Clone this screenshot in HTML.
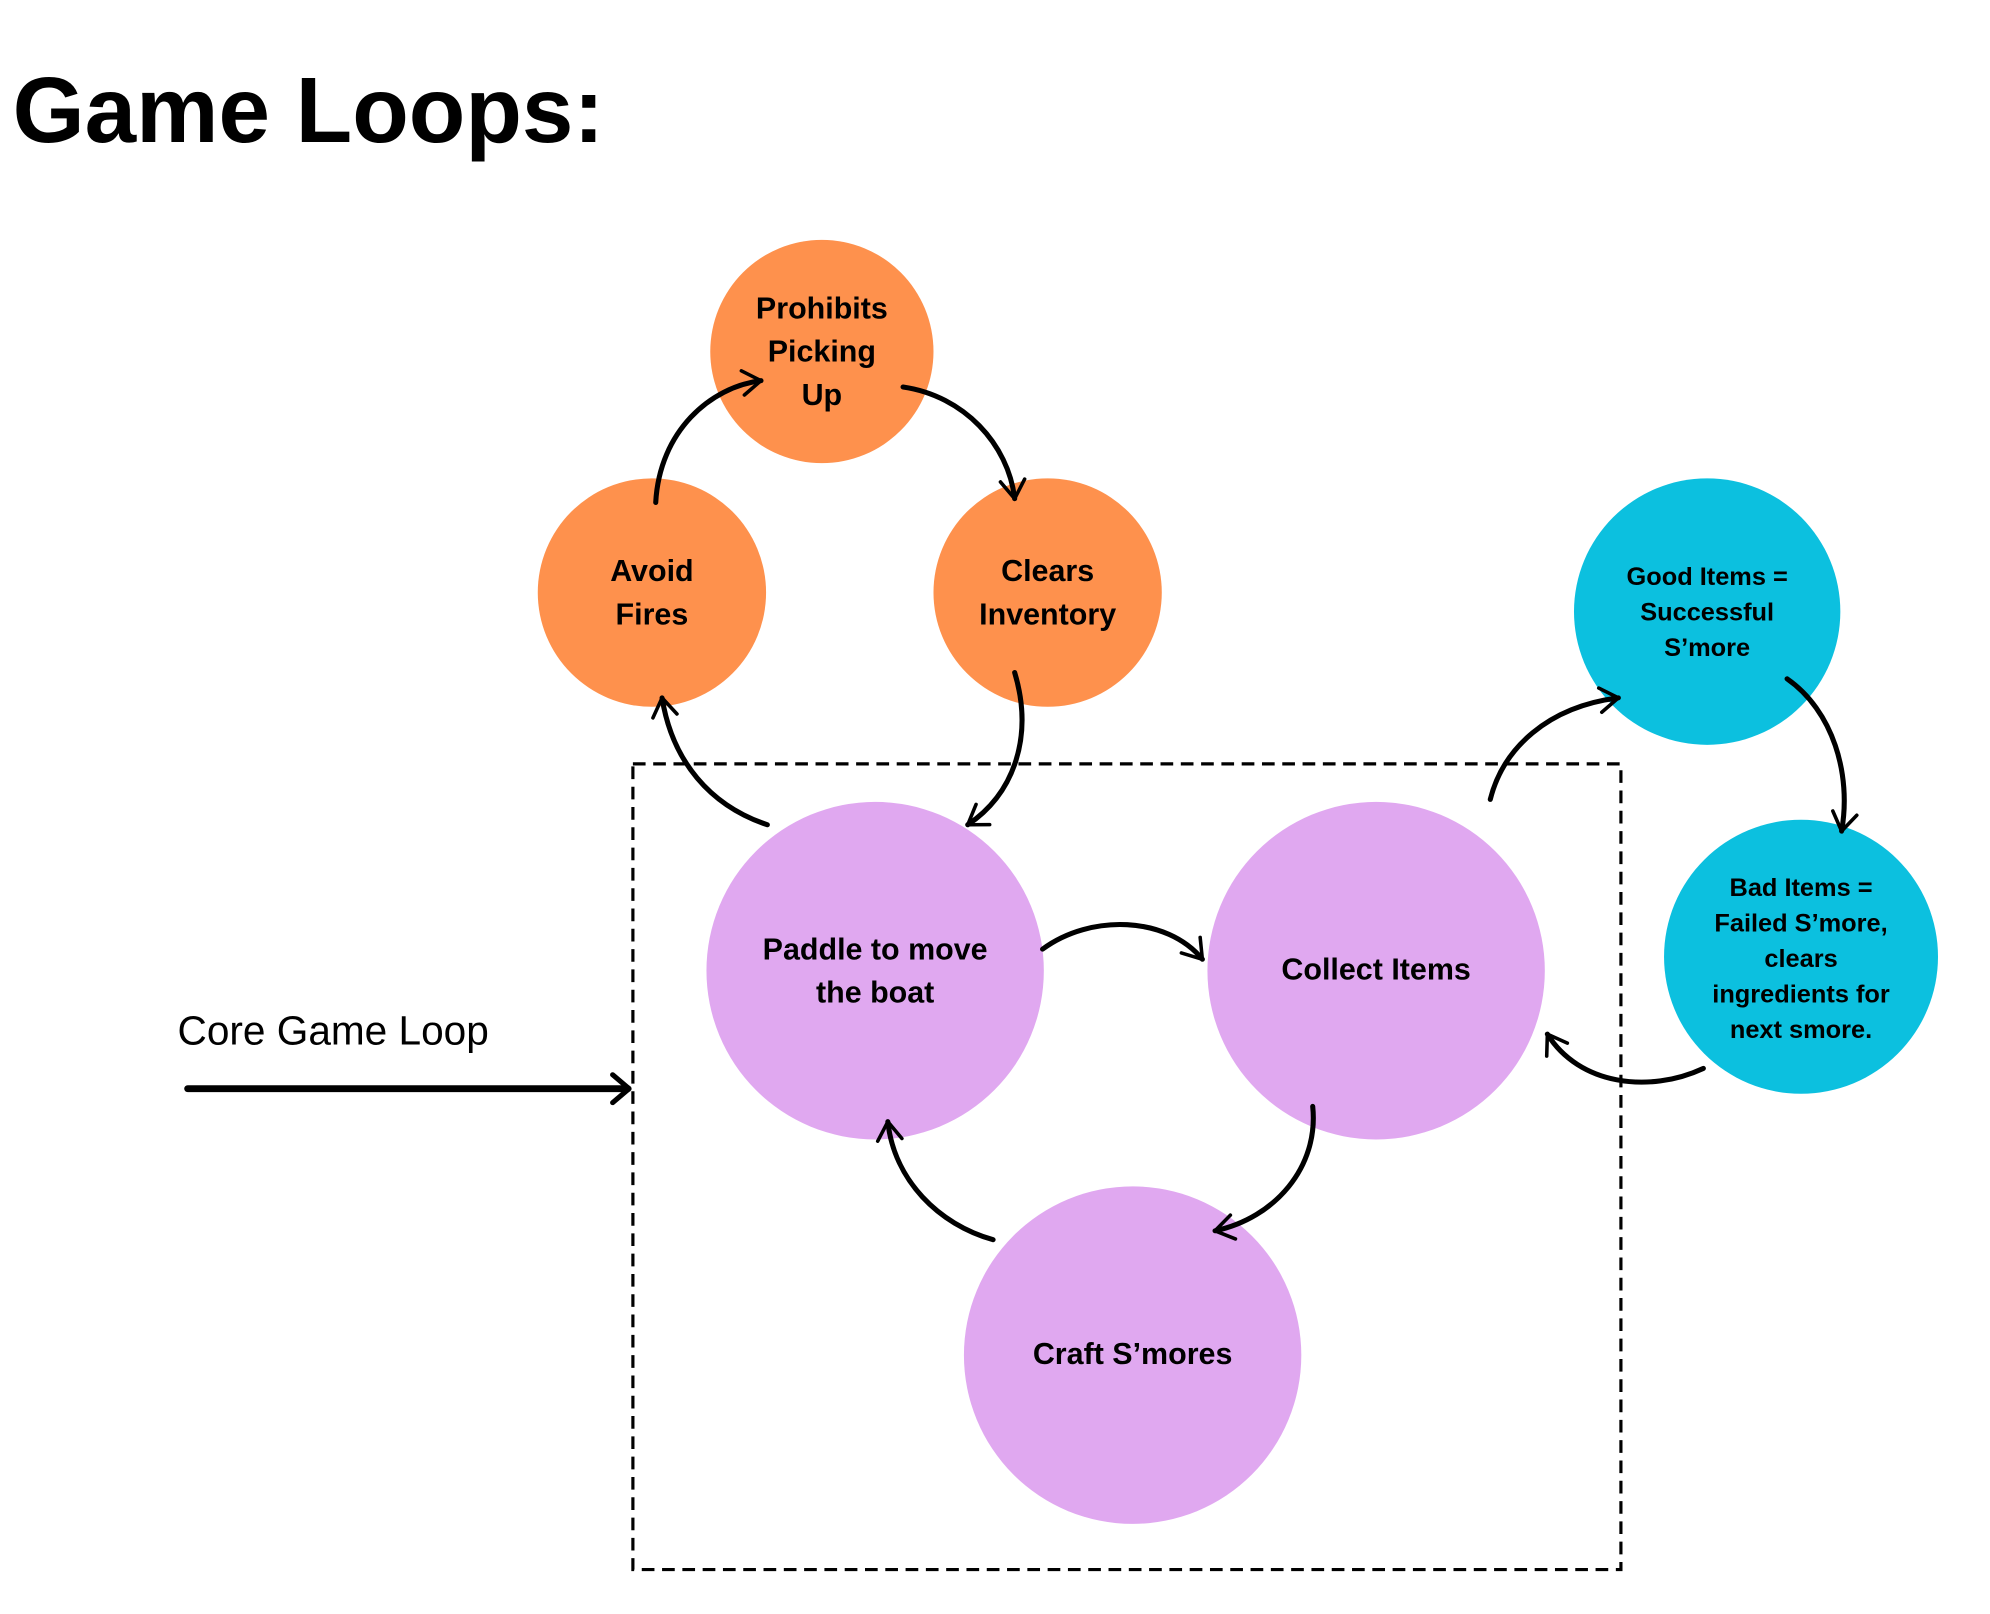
<!DOCTYPE html>
<html><head><meta charset="utf-8"><style>
html,body{margin:0;padding:0;background:#fff;}
svg{display:block;}
text{font-family:"Liberation Sans",sans-serif;}
</style></head><body>
<svg width="1990" height="1614" viewBox="0 0 1569 1272" preserveAspectRatio="none" xmlns="http://www.w3.org/2000/svg">
<defs>
<marker id="a" viewBox="0 0 20 20" refX="16" refY="10" markerWidth="16" markerHeight="16" markerUnits="userSpaceOnUse" orient="auto" overflow="visible">
<path d="M-2,-2 L16,10 L-2,22" fill="none" stroke="#000" stroke-width="3.5" stroke-linecap="round" stroke-linejoin="round"/>
</marker>
</defs>
<text x="10" y="112" font-size="73" font-weight="bold" fill="#000">Game Loops:</text>
<rect x="499" y="602" width="779" height="635" fill="none" stroke="#000" stroke-width="2.5" stroke-dasharray="10,6"/>
<circle cx="648" cy="277" r="88" fill="#fe914d"/>
<circle cx="514" cy="467" r="90" fill="#fe914d"/>
<circle cx="826" cy="467" r="90" fill="#fe914d"/>
<circle cx="1346" cy="482" r="105" fill="#0cc0df"/>
<circle cx="1420" cy="754" r="108" fill="#0cc0df"/>
<circle cx="690" cy="765" r="133" fill="#e0a8f0"/>
<circle cx="1085" cy="765" r="133" fill="#e0a8f0"/>
<circle cx="893" cy="1068" r="133" fill="#e0a8f0"/>
<g font-weight="bold" text-anchor="middle" fill="#000">
<text font-size="24" x="648" y="251">Prohibits</text>
<text font-size="24" x="648" y="285">Picking</text>
<text font-size="24" x="648" y="319">Up</text>
<text font-size="24" x="514" y="458">Avoid</text>
<text font-size="24" x="514" y="492">Fires</text>
<text font-size="24" x="826" y="458">Clears</text>
<text font-size="24" x="826" y="492">Inventory</text>
<text font-size="20" x="1346" y="461">Good Items =</text>
<text font-size="20" x="1346" y="489">Successful</text>
<text font-size="20" x="1346" y="517">S’more</text>
<text font-size="20" x="1420" y="706">Bad Items =</text>
<text font-size="20" x="1420" y="734">Failed S’more,</text>
<text font-size="20" x="1420" y="762">clears</text>
<text font-size="20" x="1420" y="790">ingredients for</text>
<text font-size="20" x="1420" y="818">next smore.</text>
<text font-size="24" x="690" y="756">Paddle to move</text>
<text font-size="24" x="690" y="790">the boat</text>
<text font-size="24" x="1085" y="772">Collect Items</text>
<text font-size="24" x="893" y="1075">Craft S’mores</text>
</g>
<text x="140" y="823" font-size="32" fill="#000">Core Game Loop</text>
<line x1="148" y1="858" x2="495" y2="858" stroke="#000" stroke-width="5.5" stroke-linecap="round"/>
<path d="M483,847 L496,858 L483,869" fill="none" stroke="#000" stroke-width="4" stroke-linecap="round" stroke-linejoin="round"/>
<g fill="none" stroke="#000" stroke-width="4" stroke-linecap="round" marker-end="url(#a)">
<path d="M517,396 C520,340 560,305 600,300"/>
<path d="M712,305 C760,312 795,350 800,393"/>
<path d="M800,530 C815,580 800,625 763,650"/>
<path d="M605,650 C560,635 530,600 522,550"/>
<path d="M822,748 C860,720 920,722 948,756"/>
<path d="M1035,872 C1040,920 1005,960 958,970"/>
<path d="M783,977 C740,965 705,930 700,884"/>
<path d="M1175,630 C1185,590 1220,557 1276,550"/>
<path d="M1409,535 C1445,560 1460,610 1452,655"/>
<path d="M1343,842 C1300,862 1245,855 1220,815"/>
</g>
</svg>
</body></html>
